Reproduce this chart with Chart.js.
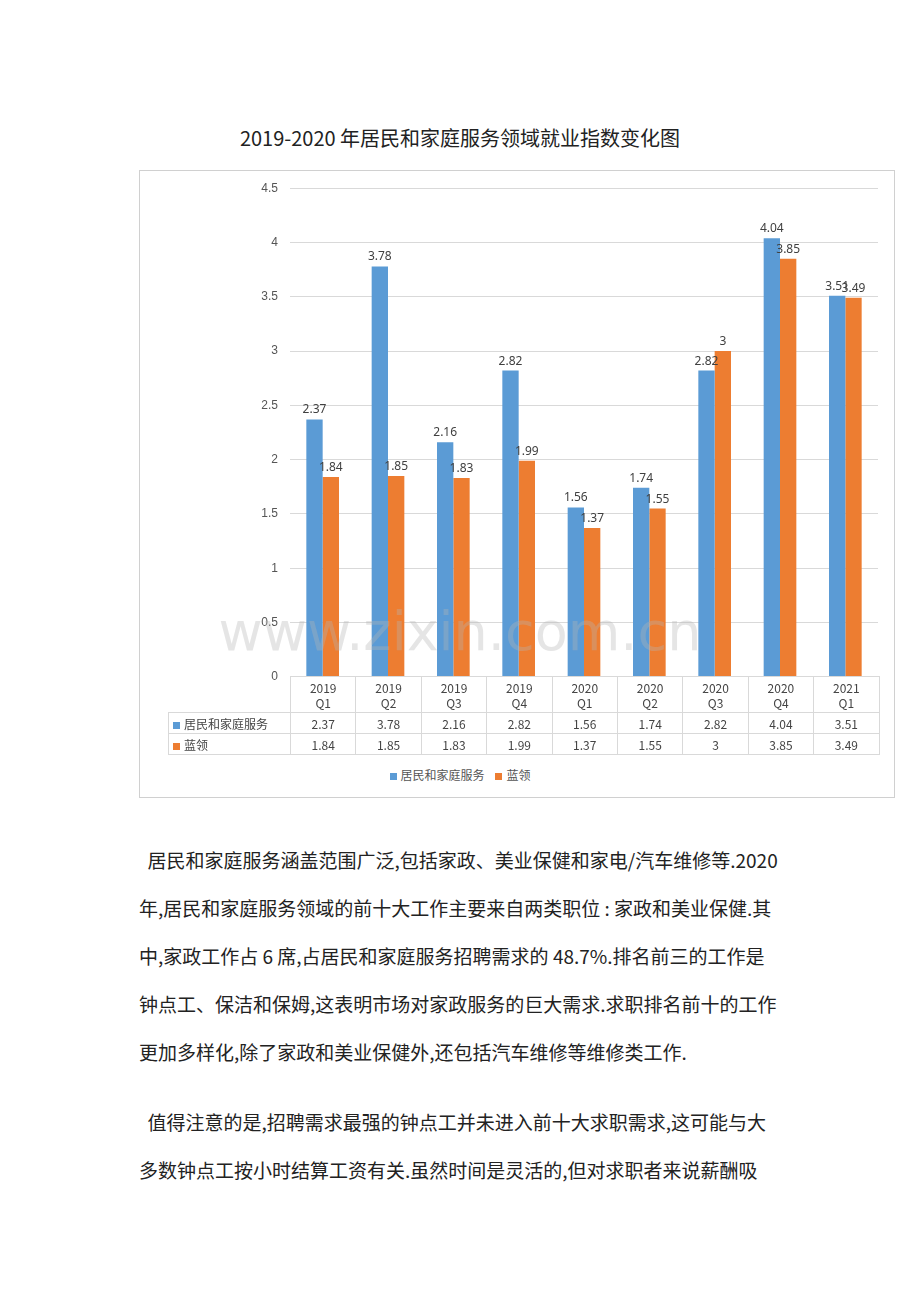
<!DOCTYPE html>
<html><head><meta charset="utf-8">
<script src="https://cdn.jsdelivr.net/npm/chart.js@4"></script>
<style>
body{margin:0;background:#fff;font-family:"Noto Sans CJK SC","Noto Sans",sans-serif;color:#222;}
#page{position:relative;width:920px;height:1302px;overflow:hidden;}
#title{position:absolute;top:123px;left:0;width:920px;text-align:center;font-size:20px;}
#box{position:absolute;left:139px;top:170px;width:756px;height:628px;border:1px solid #d0d0d0;box-sizing:border-box;}
#wrap{position:absolute;left:230px;top:169px;width:652px;height:527px;}
#tbl{position:absolute;left:168px;top:676px;border-collapse:collapse;table-layout:fixed;width:711px;font-size:12px;color:#444;}
#tbl td{border:1px solid #d9d9d9;text-align:center;padding:0;}
#tbl td.h{text-align:left;padding-left:4px;}
#tbl tr.c td{height:35px;line-height:15px;}
#tbl tr.v td{height:20px;}
#tbl tr.c td.e{border:none;border-right:1px solid #d9d9d9;}
.sq{display:inline-block;width:7px;height:7px;margin-right:4px;}
#legend{position:absolute;top:766px;left:0;width:920px;text-align:center;font-size:12px;color:#555;}
#wm{position:absolute;top:600px;left:0;width:920px;text-align:center;font-size:54px;color:rgba(180,180,180,0.35);font-family:"DejaVu Sans",sans-serif;}
#text{position:absolute;left:139px;top:836px;width:700px;font-size:19px;line-height:48px;}
</style></head><body>
<div id="page">
<div id="title">2019-2020 年居民和家庭服务领域就业指数变化图</div>
<div id="box"></div>
<div id="wrap"><canvas id="c"></canvas></div>
<table id="tbl"></table>
<div id="legend"><span class="sq" style="background:#5b9bd5"></span>居民和家庭服务 &nbsp;&nbsp;&nbsp;<span class="sq" style="background:#ed7d31"></span>蓝领</div>
<div id="wm">www.zixin.com.cn</div>
<div id="text">
&nbsp;&nbsp;居民和家庭服务涵盖范围广泛,包括家政、美业保健和家电/汽车维修等.2020<br>
年,居民和家庭服务领域的前十大工作主要来自两类职位 : 家政和美业保健.其<br>
中,家政工作占 6 席,占居民和家庭服务招聘需求的 48.7%.排名前三的工作是<br>
钟点工、保洁和保姆,这表明市场对家政服务的巨大需求.求职排名前十的工作<br>
更加多样化,除了家政和美业保健外,还包括汽车维修等维修类工作.<br>
<div style="height:22px"></div>
&nbsp;&nbsp;值得注意的是,招聘需求最强的钟点工并未进入前十大求职需求,这可能与大<br>
多数钟点工按小时结算工资有关.虽然时间是灵活的,但对求职者来说薪酬吸
</div>
</div>
<script>
const years = ["2019","2019","2019","2019","2020","2020","2020","2020","2021"];
const quarters = ["Q1","Q2","Q3","Q4","Q1","Q2","Q3","Q4","Q1"];
const resident = [2.37,3.78,2.16,2.82,1.56,1.74,2.82,4.04,3.51];
const blueCollar = [1.84,1.85,1.83,1.99,1.37,1.55,3,3.85,3.49];
const seriesNames = ["居民和家庭服务","蓝领"];
const colors = ["#5b9bd5","#ed7d31"];

// data table under the plot
const tbl = document.getElementById("tbl");
let html = '<colgroup><col style="width:122px">' + years.map(()=>'<col style="width:65.4px">').join("") + '</colgroup>';
html += '<tr class="c"><td class="h e"></td>' + years.map((y,i)=>`<td>${y}<br>${quarters[i]}</td>`).join("") + '</tr>';
[resident, blueCollar].forEach((arr,k)=>{
  html += `<tr class="v"><td class="h"><span class="sq" style="background:${colors[k]}"></span>${seriesNames[k]}</td>` + arr.map(v=>`<td>${v}</td>`).join("") + '</tr>';
});
tbl.innerHTML = html;

const valueLabels = {
  id: "valueLabels",
  afterDatasetsDraw(chart) {
    const ctx = chart.ctx;
    ctx.save();
    ctx.font = '12px "Noto Sans", sans-serif';
    ctx.fillStyle = "#404040";
    ctx.textAlign = "center";
    chart.data.datasets.forEach((ds, i) => {
      chart.getDatasetMeta(i).data.forEach((bar, j) => {
        ctx.fillText(ds.data[j], bar.x, bar.y - 6);
      });
    });
    ctx.restore();
  }
};

new Chart(document.getElementById("c"), {
  type: "bar",
  data: {
    labels: years.map((y,i)=>y+" "+quarters[i]),
    datasets: [
      { label: seriesNames[0], data: resident, backgroundColor: colors[0] },
      { label: seriesNames[1], data: blueCollar, backgroundColor: colors[1] }
    ]
  },
  options: {
    responsive: true,
    maintainAspectRatio: false,
    animation: false,
    layout: { padding: { top: 7, bottom: 4, right: 4 } },
    datasets: { bar: { categoryPercentage: 0.5, barPercentage: 1 } },
    plugins: { legend: { display: false }, tooltip: { enabled: false } },
    scales: {
      x: { display: false },
      y: {
        min: 0, max: 4.5,
        ticks: { stepSize: 0.5, color: "#555", font: { size: 12 }, padding: 12,
          callback: v => String(v) },
        grid: { color: "#d9d9d9", drawTicks: false },
        border: { display: false },
        afterFit(s) { s.width = 60; }
      }
    }
  },
  plugins: [valueLabels]
});
</script>
</body></html>
